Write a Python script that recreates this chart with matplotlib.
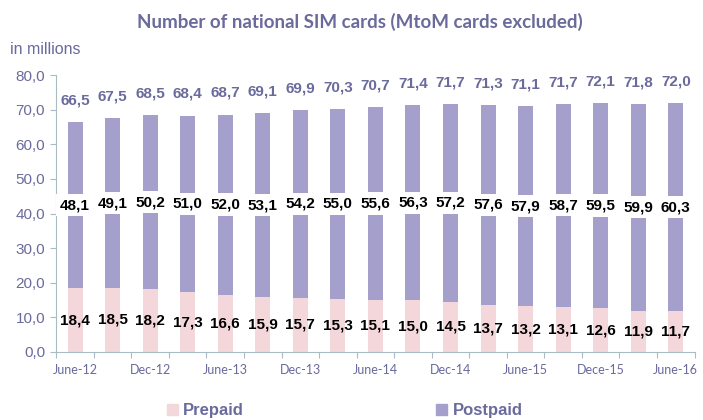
import matplotlib.pyplot as plt
from matplotlib.patches import Patch

# data
periods = ['June-12', 'Dec-12', 'June-13', 'Dec-13', 'June-14', 'Dec-14',
           'June-15', 'Dece-15', 'June-16']
prepaid = [18.4, 18.5, 18.2, 17.3, 16.6, 15.9, 15.7, 15.3, 15.1, 15.0, 14.5,
           13.7, 13.2, 13.1, 12.6, 11.9, 11.7]
postpaid = [48.1, 49.1, 50.2, 51.0, 52.0, 53.1, 54.2, 55.0, 55.6, 56.3, 57.2,
            57.6, 57.9, 58.7, 59.5, 59.9, 60.3]
total = [66.5, 67.5, 68.5, 68.4, 68.7, 69.1, 69.9, 70.3, 70.7, 71.4, 71.7,
         71.3, 71.1, 71.7, 72.1, 71.8, 72.0]

c_pre = '#f3d7db'
c_post = '#a49fcb'
c_text = '#6a6a9c'
c_axis = '#a9bcc4'

fig = plt.figure(figsize=(7.03, 4.2), dpi=100)
ax = fig.add_axes([0.080, 0.162, 0.908, 0.659])

x = list(range(len(total)))
w = 0.4
ax.bar(x, prepaid, width=w, color=c_pre)
ax.bar(x, postpaid, width=w, bottom=prepaid, color=c_post)

for i in x:
    ax.text(i, prepaid[i] / 2, f'{prepaid[i]:.1f}'.replace('.', ','),
            ha='center', va='center', fontsize=11, fontweight='bold',
            family='Liberation Sans', color='black')
    ax.text(i, prepaid[i] + postpaid[i] / 2, f'{postpaid[i]:.1f}'.replace('.', ','),
            ha='center', va='center', fontsize=11, fontweight='bold',
            family='Liberation Sans', color='black',
            bbox=dict(facecolor='white', edgecolor='none', pad=3))
    ax.text(i, total[i] + 6.2, f'{total[i]:.1f}'.replace('.', ','),
            ha='center', va='center', fontsize=11, fontweight='bold',
            family='Liberation Sans', color=c_text)

ax.set_xlim(-0.5, 16.5)
ax.set_ylim(0, 80)
ax.set_yticks(range(0, 81, 10))
ax.set_yticklabels([f'{v:.1f}'.replace('.', ',') for v in range(0, 81, 10)],
                   family='Liberation Sans', fontsize=11, color=c_text)
ax.set_xticks([i - 0.5 for i in range(18)])
ax.set_xticklabels([])
ax.set_xticks(list(range(0, 17, 2)), minor=True)
ax.set_xticklabels(periods, minor=True, family='Lato', fontsize=9,
                   color=c_text)
ax.tick_params(axis='x', which='minor', length=0, pad=9)
ax.tick_params(axis='x', which='major', length=4, color=c_axis, direction='out')
ax.tick_params(axis='y', length=4, color=c_axis, pad=4)
for s in ['top', 'right']:
    ax.spines[s].set_visible(False)
for s in ['left', 'bottom']:
    ax.spines[s].set_color(c_axis)

fig.text(0.512, 0.948, 'Number of national SIM cards (MtoM cards excluded)',
         ha='center', va='center', fontsize=13.5, fontweight='bold',
         family='Lato', color=c_text)
fig.text(0.014, 0.883, 'in millions', ha='left', va='center', fontsize=11.5,
         family='Liberation Sans', color=c_text)

handles = [Patch(color=c_pre, label='Prepaid'), Patch(color=c_post, label='Postpaid')]
leg = fig.legend(handles=handles, loc='center', bbox_to_anchor=(0.49, 0.022),
                 ncol=2, frameon=False, columnspacing=11.5, handlelength=0.7,
                 handleheight=0.7, handletextpad=0.3,
                 prop={'family': 'Liberation Sans', 'weight': 'bold', 'size': 12})
for t in leg.get_texts():
    t.set_color(c_text)

fig.savefig('out.png', dpi=100)
